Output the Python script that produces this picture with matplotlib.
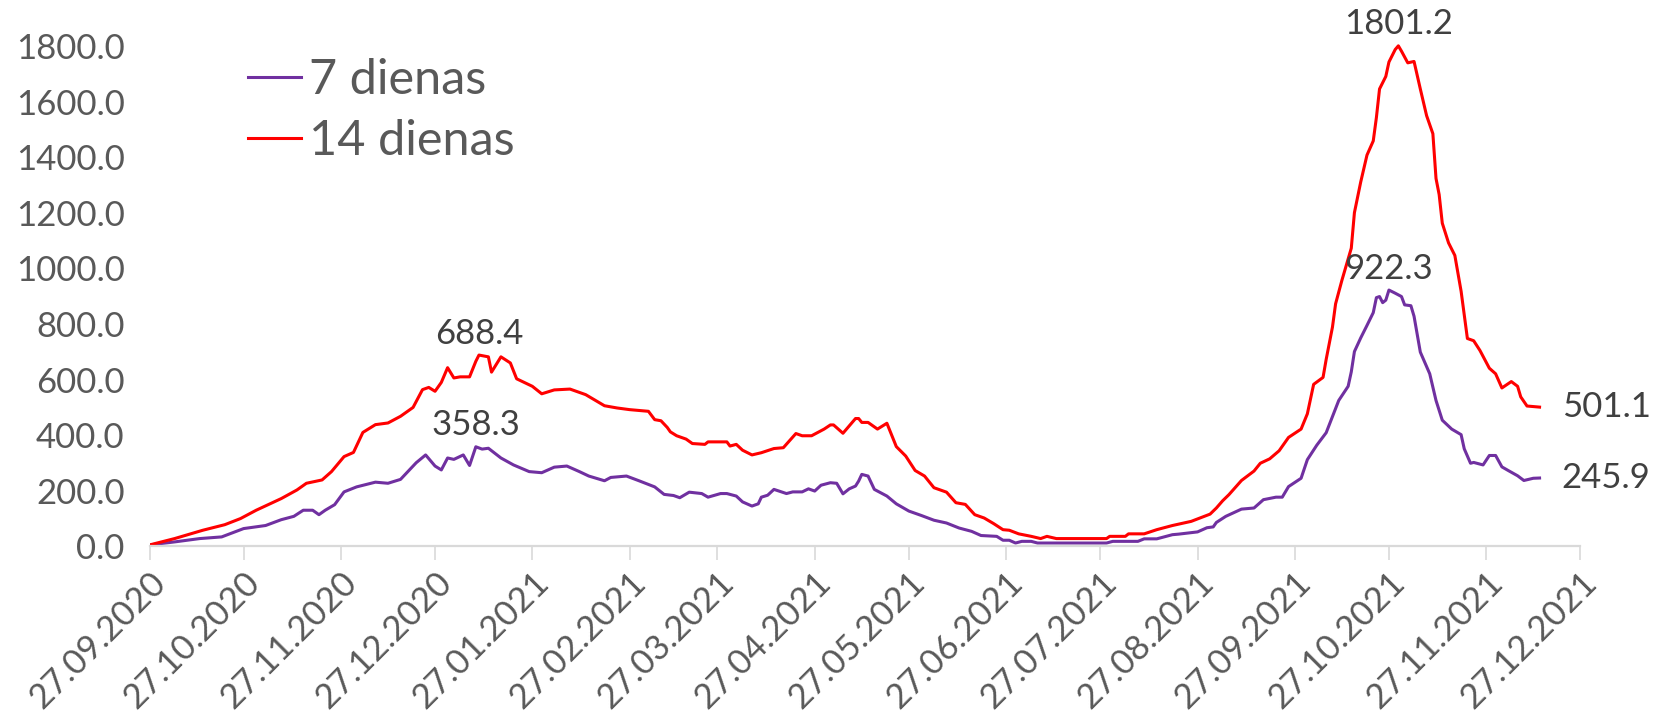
import matplotlib
matplotlib.use('Agg')
import matplotlib.pyplot as plt
import matplotlib.dates as mdates
import matplotlib.ticker as mticker
import pandas as pd

plt.rcParams['font.family'] = ['Lato', 'DejaVu Sans']

start = pd.Timestamp('2020-09-27')
end = pd.Timestamp('2021-12-27')

# days since 27.09.2020
day_7 = [0, 8, 16, 23, 30, 37, 42, 46, 49, 52, 54, 56, 59, 62, 66, 72, 76, 80, 83, 85,
         88, 91, 93, 95, 97, 100, 102, 104, 106, 108, 112, 116, 121, 125, 129, 133, 137, 140, 145, 147,
         152, 156, 161, 164, 167, 169, 172, 176, 178, 182, 184, 187, 189, 192, 194, 195, 197, 199, 203, 205,
         208, 210, 212, 214, 217, 219, 221, 223, 225, 226, 227, 229, 231, 235, 238, 242, 246, 250, 254, 258,
         262, 265, 270, 272, 274, 276, 278, 281, 283, 305, 307, 315, 317, 321, 326, 328, 334, 337, 339, 340,
         343, 348, 352, 355, 359, 361, 363, 367, 369, 372, 375, 377, 379, 382, 383, 384, 386, 388, 390, 391,
         392, 393, 394, 395, 397, 399, 400, 402, 403, 405, 408, 410, 412, 415, 418, 419, 421, 422, 425, 427,
         429, 431, 433, 436, 438, 441, 443]
val_7 = [5, 16, 28, 34, 64, 75, 96, 108, 130, 130, 114, 130, 150, 196, 214, 231, 227, 241, 277, 301,
         329, 289, 275, 318, 313, 329, 291, 358.3, 350, 353, 318, 293, 269, 265, 285, 289, 269, 253, 236, 248,
         253, 236, 214, 187, 183, 175, 195, 190, 177, 190, 190, 181, 160, 145, 153, 177, 184, 205, 190, 196,
         196, 207, 199, 220, 229, 227, 189, 207, 217, 235, 259, 253, 205, 181, 153, 127, 111, 94, 84, 66,
         54, 39, 36, 22, 22, 12, 18, 18, 12, 12, 18, 18, 27, 27, 42, 44, 52, 67, 70, 86,
         108, 134, 138, 168, 177, 177, 215, 245, 312, 364, 409, 467, 525, 576, 628, 701, 750, 795, 841, 895,
         899, 877, 886, 922.3, 911, 899, 869, 866, 828, 699, 621, 525, 454, 422, 402, 351, 299, 302, 293, 327,
         327, 286, 273, 254, 237, 245, 245.9]

day_14 = [0, 8, 17, 24, 29, 34, 42, 47, 50, 55, 58, 62, 65, 68, 72, 76, 80, 84, 87, 89,
          91, 93, 95, 97, 99, 102, 104, 105, 108, 109, 112, 115, 117, 122, 125, 129, 134, 139, 145, 149,
          153, 159, 161, 163, 165, 166, 168, 171, 173, 177, 178, 184, 185, 187, 189, 192, 195, 199, 202, 206,
          208, 211, 215, 217, 218, 221, 225, 226, 227, 229, 231, 232, 235, 238, 241, 244, 247, 250, 254, 257,
          260, 263, 266, 269, 272, 274, 277, 281, 284, 286, 289, 305, 306, 311, 312, 317, 321, 326, 328, 332,
          335, 338, 340, 342, 344, 348, 352, 354, 357, 360, 363, 367, 369, 371, 374, 375, 377, 378, 380, 383,
          384, 386, 388, 390, 391, 392, 394, 395, 397, 398, 399, 401, 403, 405, 407, 409, 410, 411, 412, 414,
          416, 417, 418, 420, 422, 424, 427, 429, 431, 434, 436, 437, 439, 443]
val_14 = [5, 28, 58, 78, 100, 130, 172, 203, 227, 239, 269, 323, 338, 410, 438, 444, 468, 500, 564, 572,
          558, 590, 643, 606, 610, 610, 666, 688.4, 682, 627, 682, 660, 603, 576, 549, 563, 566, 546, 506, 498,
          492, 486, 456, 452, 428, 412, 398, 386, 370, 367, 376, 376, 361, 367, 346, 329, 337, 352, 355, 406,
          398, 398, 422, 437, 437, 407, 460, 460, 446, 446, 430, 422, 443, 359, 325, 273, 253, 211, 195, 157,
          151, 114, 102, 82, 60, 58, 45, 36, 28, 36, 28, 28, 36, 36, 45, 45, 60, 75, 80, 90,
          103, 116, 138, 164, 186, 237, 271, 299, 315, 344, 392, 422, 477, 583, 608, 673, 789, 873, 957, 1073,
          1201, 1311, 1408, 1459, 1543, 1646, 1691, 1743, 1788, 1801.2, 1782, 1740, 1745, 1646, 1550, 1485, 1324, 1266, 1163, 1092,
          1047, 982, 918, 748, 740, 705, 641, 621, 570, 593, 576, 538, 505, 501.1]

# points that carry a value label: (day, position)
notes_7 = [(104, 'above'), (395, 'above'), (443, 'right')]
notes_14 = [(105, 'above'), (398, 'above'), (443, 'right')]

purple = '#7030A0'
red = '#FF0000'
grey = '#595959'

x7 = start + pd.to_timedelta(day_7, unit='D')
x14 = start + pd.to_timedelta(day_14, unit='D')

fig = plt.figure(figsize=(16.63, 7.14), dpi=100)
ax = fig.add_axes([0.0899, 0.2348, 0.8604, 0.720])

ax.plot(x7, val_7, color=purple, lw=2.2, label='7 dienas')
ax.plot(x14, val_14, color=red, lw=2.2, label='14 dienas')

for days, vals, xs, notes in [(day_7, val_7, x7, notes_7), (day_14, val_14, x14, notes_14)]:
    for d, where in notes:
        i = days.index(d)
        if where == 'above':
            ax.annotate(f'{vals[i]:.1f}', (xs[i], vals[i]), xytext=(0, 4), textcoords='offset points',
                        ha='center', va='bottom', fontsize=25, color='#404040', annotation_clip=False)
        else:
            ax.annotate(f'{vals[i]:.1f}', (xs[i], vals[i]), xytext=(16, 0), textcoords='offset points',
                        ha='left', va='center', fontsize=25, color='#404040', annotation_clip=False)

ax.set_xlim(start, end)
ax.set_ylim(0, 1850)
ax.set_yticks(range(0, 1801, 200))
ax.yaxis.set_major_formatter(mticker.FormatStrFormatter('%.1f'))
ax.xaxis.set_major_locator(mdates.MonthLocator(bymonthday=27))
ax.xaxis.set_major_formatter(mdates.DateFormatter('%d.%m.%Y'))

for s in ['top', 'right', 'left']:
    ax.spines[s].set_visible(False)
ax.spines['bottom'].set_color('#D9D9D9')
ax.spines['bottom'].set_linewidth(1.6)

ax.tick_params(axis='y', length=0, pad=18, labelsize=25, labelcolor=grey)
ax.tick_params(axis='x', length=10, width=1.2, color='#D9D9D9', labelsize=25, labelcolor=grey, pad=4)
for lab in ax.get_xticklabels():
    lab.set_rotation(45)
    lab.set_ha('right')
    lab.set_rotation_mode('anchor')

leg = ax.legend(loc='center left', bbox_to_anchor=(0.149, 0.845), bbox_transform=fig.transFigure,
                frameon=False, fontsize=35, handlelength=1.1, handletextpad=0.15, labelspacing=0.35,
                borderpad=0, borderaxespad=0)
for t in leg.get_texts():
    t.set_color(grey)

fig.savefig('out.png', dpi=100)
